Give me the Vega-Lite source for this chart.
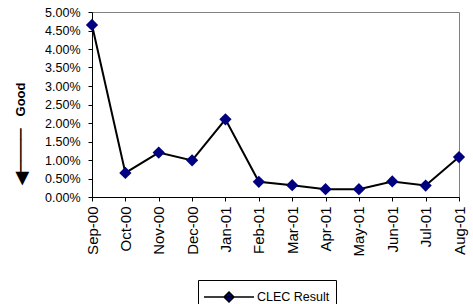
{
  "$schema": "https://vega.github.io/schema/vega-lite/v6.json",
  "width": 367,
  "height": 185,
  "autosize": "none",
  "padding": {"left": 92, "top": 12, "right": 14, "bottom": 107},
  "config": {
    "font": "Liberation Sans",
    "view": {"stroke": "#808080", "strokeWidth": 1},
    "axis": {"grid": false, "domainColor": "#000", "tickColor": "#000", "labelColor": "#000", "labelFont": "Liberation Sans"}
  },
  "data": {
    "values": [
      {"month": "Sep-00", "value": 0.0465, "series": "CLEC Result"},
      {"month": "Oct-00", "value": 0.0065, "series": "CLEC Result"},
      {"month": "Nov-00", "value": 0.012, "series": "CLEC Result"},
      {"month": "Dec-00", "value": 0.0099, "series": "CLEC Result"},
      {"month": "Jan-01", "value": 0.021, "series": "CLEC Result"},
      {"month": "Feb-01", "value": 0.0041, "series": "CLEC Result"},
      {"month": "Mar-01", "value": 0.0032, "series": "CLEC Result"},
      {"month": "Apr-01", "value": 0.0021, "series": "CLEC Result"},
      {"month": "May-01", "value": 0.0021, "series": "CLEC Result"},
      {"month": "Jun-01", "value": 0.0042, "series": "CLEC Result"},
      {"month": "Jul-01", "value": 0.0031, "series": "CLEC Result"},
      {"month": "Aug-01", "value": 0.0108, "series": "CLEC Result"}
    ]
  },
  "encoding": {
    "x": {"field": "month", "type": "ordinal", "sort": null, "scale": {"type": "point", "padding": 0},
      "axis": {"title": null, "labelAngle": -90, "labelPadding": 5, "tickSize": 4, "labelFontSize": 15}}
  },
  "resolve": {"axis": {"y": "independent"}},
  "layer": [
    {
      "mark": {"type": "line", "color": "#000", "strokeWidth": 2},
      "encoding": {
        "y": {"field": "value", "type": "quantitative", "scale": {"domain": [0, 0.05], "nice": false},
          "axis": {"orient": "left", "title": "Good", "titleFontSize": 13, "titleFontWeight": "bold", "titleColor": "#000", "titleAngle": -90, "titleAlign": "center", "titleBaseline": "middle", "titleX": -72, "titleY": 87,
            "format": ".2%", "values": [0, 0.005, 0.01, 0.015, 0.02, 0.025, 0.03, 0.035, 0.04, 0.045, 0.05], "tickSize": 4, "labelPadding": 8, "labelFontSize": 12.5}}
      }
    },
    {
      "mark": {"type": "point", "shape": "diamond", "filled": true, "size": 150, "opacity": 1},
      "encoding": {
        "y": {"field": "value", "type": "quantitative", "scale": {"domain": [0, 0.05], "nice": false},
          "axis": {"orient": "left", "labels": false, "ticks": false, "domain": false, "title": "◀────", "titleFont": "DejaVu Sans", "titleFontSize": 18, "titleFontWeight": "normal", "titleColor": "#000", "titleAngle": -90, "titleAlign": "center", "titleBaseline": "middle", "titleX": -71, "titleY": 144.5}},
        "color": {"field": "series", "type": "nominal", "scale": {"range": ["#000080"]},
          "legend": {"title": null, "orient": "none", "legendX": 106, "legendY": 268, "strokeColor": "#000", "padding": 6,
            "symbolType": "M-1.1,0H3.9M0.9,0L1.4,-0.5L1.9,0L1.4,0.5Z", "symbolSize": 400, "symbolStrokeColor": "#000", "symbolFillColor": "#000080", "symbolStrokeWidth": 1.5, "labelOffset": 31,
            "labelFontSize": 12.5, "labelColor": "#000", "labelFont": "Liberation Sans"}}
      }
    }
  ]
}
